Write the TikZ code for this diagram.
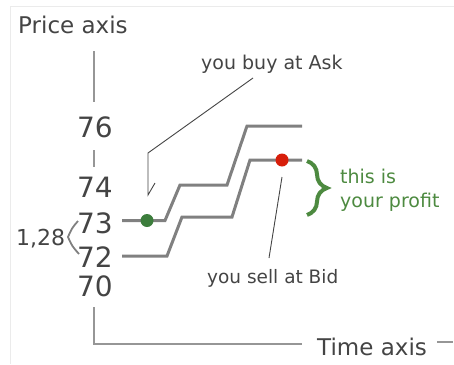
\documentclass[tikz,border=0pt]{standalone}
\usepackage{fontspec}
\setmainfont{DejaVu Sans}
\usetikzlibrary{positioning,decorations.pathreplacing}
\definecolor{txtgray}{RGB}{68,68,68}
\definecolor{linegray}{RGB}{128,128,128}
\definecolor{axisgray}{RGB}{150,150,150}
\definecolor{profitgreen}{RGB}{77,138,64}
\definecolor{dotgreen}{RGB}{60,125,60}
\definecolor{dotred}{RGB}{215,30,10}

\tikzset{
  lbl/.style={inner sep=0pt, anchor=base west, text=txtgray},
  price/.style={inner sep=0pt, anchor=base, text=txtgray, font=\fontsize{28}{30}\selectfont},
  quote/.style={draw=linegray, line width=3pt},
  axisline/.style={draw=axisgray, line width=1.2pt},
  pointer/.style={draw=txtgray, line width=0.9pt},
  dot/.style={circle, inner sep=0pt, minimum size=13pt},
}

\begin{document}
\begin{tikzpicture}[x=1pt,y=-1pt]
            \useasboundingbox (0,0) rectangle (454,364);
            \draw[black!8] (10,364) -- (10,6) -- (454,6);

            % axis labels and prices
            \node[lbl, font=\fontsize{23}{25}\selectfont] (pax) at (18,33) {Price axis};
            \node[lbl, font=\fontsize{23}{25}\selectfont] (tax) at (317,355) {Time axis};
            \node[price] (p76) at (95,137) {76};
            \node[price] (p74) at (95,197) {74};
            \node[price] (p73) at (95,233) {73};
            \node[price] (p72) at (95,267) {72};
            \node[price] (p70) at (95,296) {70};
            \node[lbl, font=\fontsize{22}{24}\selectfont] (spread) at (16,245) {1,28};

            \node[lbl, font=\fontsize{19}{21}\selectfont] (asklbl) at (201,69) {you buy at Ask};
            \node[lbl, font=\fontsize{18.5}{21}\selectfont] (bidlbl) at (207,283) {you sell at Bid};
            \node[lbl, text=profitgreen, font=\fontsize{19}{21}\selectfont] (prof1) at (340,183) {this is};
            \node[lbl, text=profitgreen, font=\fontsize{19}{21}\selectfont] (prof2) at (340,207) {your profit};

            % axes
            \draw[axisline] (94,51) -- (94,102);
            \draw[axisline] (94,150) -- (94,167);
            \draw[axisline] (94,307) -- (94,344) -- (302,344);
            \draw[axisline] (437,342) -- (453,342);

            % ask and bid
            \draw[quote] (122,220.5) -- (165,220.5) -- (180,185) -- (227,185) -- (247,126) -- (302,126);
            \draw[quote] (122,256) -- (167,256) -- (182,217) -- (232,217) -- (250,160) -- (302,160);
            \node[dot, fill=dotgreen] (buy) at (147,220.5) {};
            \node[dot, fill=dotred] (sell) at (282,160) {};

            % pointers
            \coordinate (askfrom) at (253,78);
            \coordinate (askbend) at (148,153);
            \coordinate (askfoot) at (148,195);
            \coordinate (asktick) at (155,183);
            \draw[pointer] (askfrom) -- (askbend) -- (askfoot) -- (asktick);
            \coordinate (bidfrom) at (269,258);
            \coordinate (bidto) at (282,177);
            \draw[pointer] (bidfrom) -- (bidto);

            % spread and profit
            \draw[linegray, line width=1.8pt] (78,221) .. controls (72,228) .. (68,237) .. controls (72,246) .. (79,254);
            \draw[profitgreen, line width=4pt, decorate, decoration={brace, amplitude=20pt}] (307,161) -- (307,215);
      \end{tikzpicture}
\end{document}
